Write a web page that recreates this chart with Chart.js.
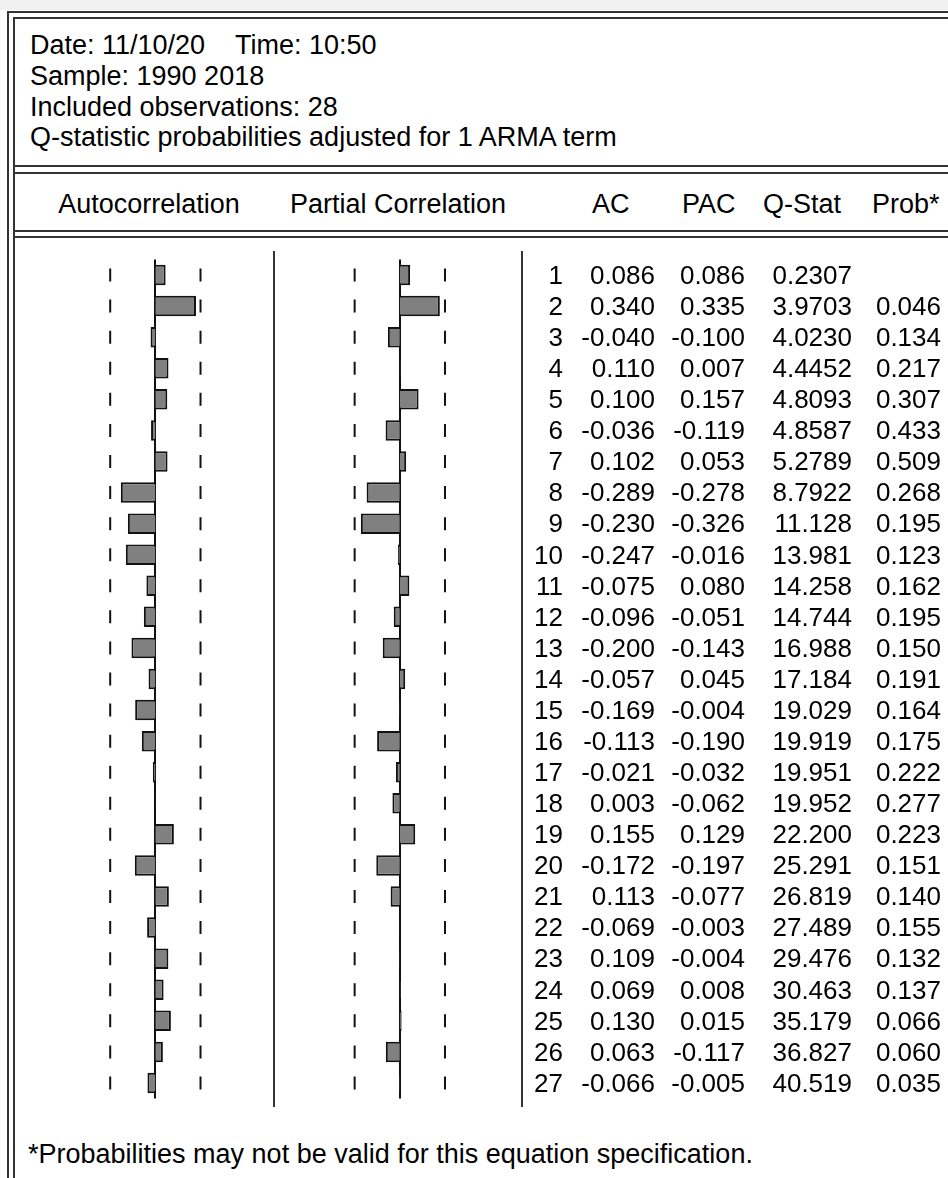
<!DOCTYPE html>
<html>
<head>
<meta charset="utf-8">
<script src="https://cdn.jsdelivr.net/npm/chart.js@4.4.1/dist/chart.umd.min.js"></script>
<style>
  html, body { margin: 0; padding: 0; background: #fff; }
  body { width: 948px; height: 1178px; position: relative; overflow: hidden;
         font-family: 'Liberation Sans', Arial, sans-serif; font-size: 26px; color: #000; }
  .abs { position: absolute; white-space: pre; }
  .big { font-size: 27px; }
  .hl { position: absolute; background: #333; height: 2px; }
  .vl { position: absolute; background: #333; width: 2px; }
  .num { position: absolute; width: 200px; text-align: right; line-height: 31.7px; white-space: pre; }
  #chartBox { position: absolute; left: 15px; top: 251px; }
</style>
</head>
<body>
<div class="abs" style="left:0;top:0;width:948px;height:10px;background:#f0f0f0"></div>
<div class="hl" style="left:7px;top:11px;width:941px"></div>
<div class="vl" style="left:7px;top:11px;height:1167px"></div>
<div class="hl" style="left:13px;top:17px;width:935px"></div>
<div class="vl" style="left:13px;top:17px;height:1161px"></div>

<div class="abs big" style="left:30px;top:30.3px;line-height:30.7px"><span style="display:inline-block;width:205px">Date: 11/10/20</span>Time: 10:50
Sample: 1990 2018
Included observations: 28
Q-statistic probabilities adjusted for 1 ARMA term</div>

<div class="hl" style="left:15px;top:165px;width:933px"></div>
<div class="hl" style="left:15px;top:172px;width:933px"></div>

<div class="num big" style="left:49px;top:189px;line-height:30px;text-align:center">Autocorrelation</div>
<div class="num big" style="left:248px;top:189px;line-height:30px;text-align:center;width:300px">Partial Correlation</div>
<div class="abs big" style="left:592px;top:189px;line-height:30px">AC</div>
<div class="abs big" style="left:682px;top:189px;line-height:30px">PAC</div>
<div class="abs big" style="left:763px;top:189px;line-height:30px">Q-Stat</div>
<div class="abs big" style="left:872px;top:189px;line-height:30px">Prob*</div>

<div class="hl" style="left:15px;top:230px;width:933px"></div>
<div class="hl" style="left:15px;top:236px;width:933px"></div>

<div id="chartBox"><canvas id="corr" width="933" height="856"></canvas></div>
<div class="vl" style="left:273px;top:251px;height:856px"></div>
<div class="vl" style="left:521px;top:251px;height:856px"></div>
<div id="rows"></div>

<div class="abs big" style="left:28px;top:1138.7px;line-height:30px">*Probabilities may not be valid for this equation specification.</div>

<script>
// correlogram values (lags 1..27)
const lags = [1, 2, 3, 4, 5, 6, 7, 8, 9, 10, 11, 12, 13, 14, 15, 16, 17, 18, 19, 20, 21, 22, 23, 24, 25, 26, 27];
const ac = [0.086, 0.340, -0.040, 0.110, 0.100, -0.036, 0.102, -0.289, -0.230, -0.247, -0.075, -0.096, -0.200, -0.057,
  -0.169, -0.113, -0.021, 0.003, 0.155, -0.172, 0.113, -0.069, 0.109, 0.069, 0.130, 0.063, -0.066];
const pac = [0.086, 0.335, -0.100, 0.007, 0.157, -0.119, 0.053, -0.278, -0.326, -0.016, 0.080, -0.051, -0.143, 0.045,
  -0.004, -0.190, -0.032, -0.062, 0.129, -0.197, -0.077, -0.003, -0.004, 0.008, 0.015, -0.117, -0.005];
const qStat = [0.2307, 3.9703, 4.0230, 4.4452, 4.8093, 4.8587, 5.2789, 8.7922, 11.128, 13.981, 14.258, 14.744, 16.988, 17.184,
  19.029, 19.919, 19.951, 19.952, 22.200, 25.291, 26.819, 27.489, 29.476, 30.463, 35.179, 36.827, 40.519];
const prob = [null, 0.046, 0.134, 0.217, 0.307, 0.433, 0.509, 0.268, 0.195, 0.123, 0.162, 0.195, 0.150, 0.191,
  0.164, 0.175, 0.222, 0.277, 0.223, 0.151, 0.140, 0.155, 0.132, 0.137, 0.066, 0.060, 0.035];
const bound = 0.378; // +/- 2 s.e. dashes

// layout (page pixels)
const canvasLeft = 15;
const canvasWidth = 933;
const unitPx = 121.7;
const acZeroX = 149.3;
const pacZeroX = 398.3;

function axisFor(zeroX) {
  const left = zeroX - canvasLeft;
  return { type: 'linear', display: false, min: -left / unitPx, max: (canvasWidth - left) / unitPx };
}

function boundPoints(sign) {
  return lags.map(l => ({ x: sign * bound, y: l }));
}

const dash = {
  type: 'scatter',
  pointStyle: 'line',
  rotation: 90,
  radius: 6.5,
  borderWidth: 2,
  borderColor: '#111',
  backgroundColor: '#111',
};

const zeroLines = {
  id: 'zeroLines',
  beforeDatasetsDraw(chart) {
    const { ctx, chartArea } = chart;
    ctx.save();
    ctx.strokeStyle = '#111';
    ctx.lineWidth = 2;
    for (const id of ['xAC', 'xPAC']) {
      const x = Math.round(chart.scales[id].getPixelForValue(0));
      ctx.beginPath();
      ctx.moveTo(x, chartArea.top);
      ctx.lineTo(x, chartArea.bottom);
      ctx.stroke();
    }
    ctx.restore();
  }
};

const bar = {
  type: 'bar',
  backgroundColor: '#808080',
  borderColor: '#111',
  borderWidth: 2,
  grouped: false,
  barPercentage: 0.66,
  categoryPercentage: 1,
};

const chart = new Chart(document.getElementById('corr'), {
  type: 'bar',
  data: {
    labels: lags,
    datasets: [
      Object.assign({ label: 'AC', data: ac, xAxisID: 'xAC' }, bar),
      Object.assign({ label: 'PAC', data: pac, xAxisID: 'xPAC' }, bar),
      Object.assign({ label: 'AC lo', data: boundPoints(-1), xAxisID: 'xAC' }, dash),
      Object.assign({ label: 'AC hi', data: boundPoints(1), xAxisID: 'xAC' }, dash),
      Object.assign({ label: 'PAC lo', data: boundPoints(-1), xAxisID: 'xPAC' }, dash),
      Object.assign({ label: 'PAC hi', data: boundPoints(1), xAxisID: 'xPAC' }, dash),
    ]
  },
  options: {
    indexAxis: 'y',
    responsive: false,
    animation: false,
    devicePixelRatio: 1,
    layout: { padding: 0 },
    plugins: { legend: { display: false }, tooltip: { enabled: false } },
    scales: {
      y: { type: 'category', display: false, offset: true },
      xAC: axisFor(acZeroX),
      xPAC: axisFor(pacZeroX),
    }
  },
  plugins: [zeroLines]
});

// numeric table, rows placed on the chart's own category scale
function fmtQ(v) {
  return v < 10 ? v.toFixed(4) : v.toFixed(3);
}

const rowsEl = document.getElementById('rows');
const top0 = 251;
const cols = [
  { right: 563, text: i => String(lags[i]) },
  { right: 655, text: i => ac[i].toFixed(3) },
  { right: 745, text: i => pac[i].toFixed(3) },
  { right: 852, text: i => fmtQ(qStat[i]) },
  { right: 941, text: i => prob[i] == null ? '' : prob[i].toFixed(3) },
];
lags.forEach((l, i) => {
  const cy = top0 + chart.scales.y.getPixelForValue(i);
  for (const c of cols) {
    const d = document.createElement('div');
    d.className = 'num';
    d.style.left = (c.right - 200) + 'px';
    d.style.top = (cy - 15.2) + 'px';
    d.textContent = c.text(i);
    rowsEl.appendChild(d);
  }
});
</script>
</body>
</html>
